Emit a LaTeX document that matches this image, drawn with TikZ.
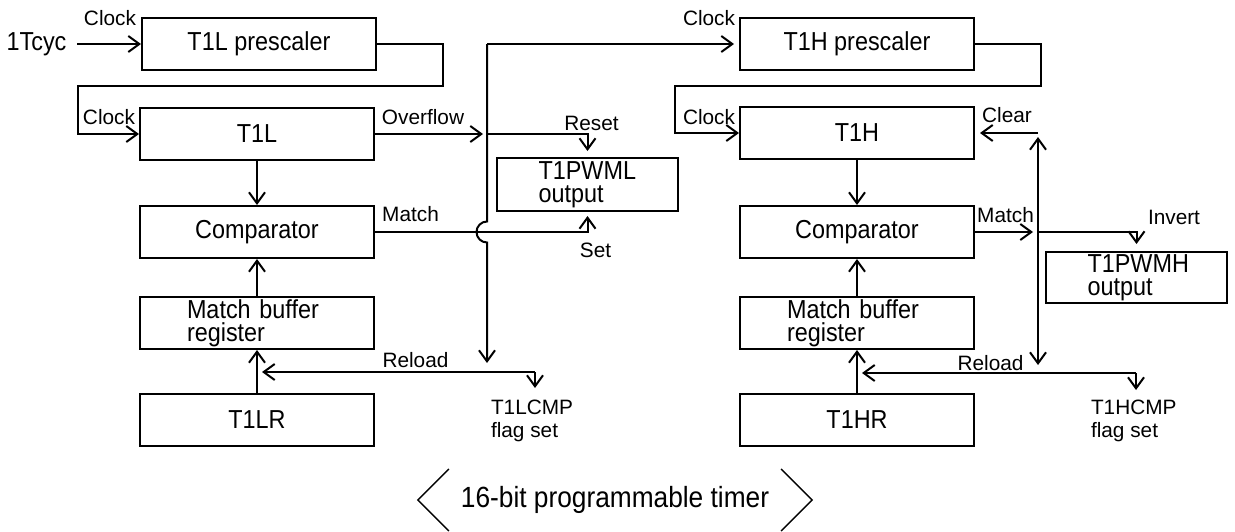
\documentclass[tikz,border=0pt]{standalone}
\usepackage{fontspec}
\setmainfont{Liberation Sans}
\newfontfamily\tallfam[FakeStretch=0.9]{Liberation Sans}
\usetikzlibrary{arrows.meta}

\newcommand\boxfont{\tallfam\fontsize{13}{11.5}\selectfont}
\newcommand\lblfont{\fontsize{10.4}{11.5}\selectfont}
\newcommand\ttlfont{\tallfam\fontsize{14.6}{15}\selectfont}

\begin{document}
\begin{tikzpicture}[x=0.5pt,y=-0.5pt,line width=1pt,
    arr/.style={-{Straight Barb[length=5.5pt,width=8pt]}},
    dbl/.style={{Straight Barb[length=5.5pt,width=8pt]}-{Straight Barb[length=5.5pt,width=8pt]}}]
  \useasboundingbox (0,0) rectangle (1235,531);

  \begin{scope}[every node/.style={draw,minimum width=117pt,minimum height=26pt,inner sep=0pt,font=\boxfont}]
    \node (lpre) at (259,44)  {T1L prescaler};
    \node (ltmr) at (257,134) {T1L};
    \node (lcmp) at (257,232) {Comparator};
    \node[text width=70pt,align=left,inner xsep=23.5pt] (lmbr) at (257,323) {Match buffer\\register};
    \node (ltr)  at (257,420) {T1LR};
    \node[minimum width=90.5pt,minimum height=26.5pt,text width=49pt,align=left,inner xsep=20.75pt] (lpwm) at (587.5,184.5) {T1PWML\\output};

    \node (rpre) at (857,44)  {T1H prescaler};
    \node (rtmr) at (857,133) {T1H};
    \node (rcmp) at (857,232) {Comparator};
    \node[text width=70pt,align=left,inner xsep=23.5pt] (rmbr) at (857,323) {Match buffer\\register};
    \node (rtr)  at (857,420) {T1HR};
    \node[minimum width=90.5pt,minimum height=25.5pt,text width=49pt,align=left,inner xsep=20.75pt] (rpwm) at (1136.5,277.5) {T1PWMH\\output};
  \end{scope}

  \begin{scope}[every node/.style={inner sep=0pt,font=\lblfont}]
    \node[inner xsep=5pt,font=\boxfont] (tcyc) at (36.5,44) {1Tcyc};
    \node (clk1) at (110,18)  {Clock};
    \node (clk2) at (109,117) {Clock};
    \node (ovf)  at (423,117) {Overflow};
    \node (rst)  at (591.5,123) {Reset};
    \node (mtl)  at (410.5,214) {Match};
    \node (set)  at (595.5,250) {Set};
    \node (rll)  at (415.5,360) {Reload};
    \node[anchor=west,align=left] (cmpl) at (490,420.5) {T1LCMP\\flag set};

    \node (clk3) at (709,18)  {Clock};
    \node (clk4) at (709,117) {Clock};
    \node (clr)  at (1007,115) {Clear};
    \node (mtr)  at (1005.5,215) {Match};
    \node (inv)  at (1174,217) {Invert};
    \node (rlr)  at (990.5,363) {Reload};
    \node[anchor=west,align=left] (cmph) at (1090,421) {T1HCMP\\flag set};
  \end{scope}

  \coordinate (ljn)  at (487,134);
  \coordinate (ltop) at (487,44);
  \coordinate (lend) at (487,363);
  \coordinate (lrl)  at (535,372);
  \coordinate (rjn)  at (1038,232);
  \coordinate (rclr) at (1038,133);
  \coordinate (rup)  at (1038,137);
  \coordinate (rdn)  at (1038,365);
  \coordinate (rrl)  at (1136,373);

  % low byte
  \draw[arr] (tcyc.east) -- (tcyc.east -| lpre.west);
  \draw[arr] (lpre.east) -- ++(66,0) |- (78,86) |- (ltmr.west);
  \draw[arr,shorten >=2pt] (ltmr.east) -- (ljn);
  \draw[arr,shorten >=3pt] (ljn) -| (lpwm.north);
  \draw[arr,shorten >=2.5pt] (ltop) -- (ltop -| rpre.west);
  \draw[arr] (ltop) -- (487,221.5) arc[start angle=90,end angle=270,radius=5.25pt] -- (lend);
  \draw[arr,shorten >=2pt] (lcmp.east) -| (lpwm.south);
  \draw[arr] (ltmr) -- (lcmp);
  \draw[arr] (lmbr) -- (lcmp);
  \draw[arr] (ltr) -- (lmbr);
  \draw[arr,shorten >=2.5pt] (lrl) -- (lrl -| lmbr.south);
  \draw[arr] (lrl) -- ++(0,16);

  % high byte
  \draw[arr] (rpre.east) -- ++(66,0) |- (675,86) |- (rtmr.west);
  \draw[arr,shorten >=2.5pt] (rclr) -- (rclr -| rtmr.east);
  \draw[dbl] (rdn) -- (rup);
  \draw[arr,shorten >=2.5pt] (rcmp.east) -- (rjn);
  \draw[arr,shorten >=3.5pt] (rjn) -| (rpwm.north);
  \draw[arr] (rtmr) -- (rcmp);
  \draw[arr] (rmbr) -- (rcmp);
  \draw[arr] (rtr) -- (rmbr);
  \draw[arr,shorten >=2.5pt] (rrl) -- (rrl -| rmbr.south);
  \draw[arr] (rrl) -- ++(0,17);

  \node[font=\ttlfont,inner xsep=21pt,inner ysep=0pt] (ttl) at (615,500) {16-bit programmable timer};
  \draw[line width=0.75pt] (ttl.west) ++(31,-31) -- (ttl.west) -- ++(31,31);
  \draw[line width=0.75pt] (ttl.east) ++(-31,-31) -- (ttl.east) -- ++(-31,31);
\end{tikzpicture}
\end{document}
